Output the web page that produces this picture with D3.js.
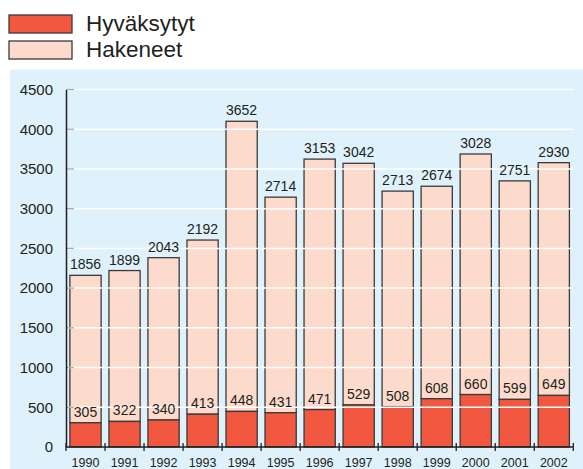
<!DOCTYPE html>
<html>
<head>
<meta charset="utf-8">
<script src="https://cdn.jsdelivr.net/npm/d3@7"></script>
<style>
  body { margin: 0; background: #fff; }
  text { font-family: "Liberation Sans", Arial, sans-serif; fill: #231f20; }
</style>
</head>
<body>
<script>
var width = 583,
    height = 469;

// data
var years = ["1990","1991","1992","1993","1994","1995","1996","1997","1998","1999","2000","2001","2002"];
var hyvaksytyt = [305,322,340,413,448,431,471,529,508,608,660,599,649];
var hakeneet = [1856,1899,2043,2192,3652,2714,3153,3042,2713,2674,3028,2751,2930];
var yTicks = [0,500,1000,1500,2000,2500,3000,3500,4000,4500];
var seriesNames = ["Hyväksytyt","Hakeneet"];

var red = "#f2573f",
    peach = "#fddbcc",
    bg = "#dff1fb";

var svg = d3.select("body").append("svg")
    .attr("width", width)
    .attr("height", height);

// panel background
svg.append("rect")
    .attr("x", 10).attr("y", 69.5)
    .attr("width", width - 10).attr("height", height - 69.5)
    .attr("fill", bg);

var x = d3.scaleBand()
    .domain(years)
    .range([66, 573.3])
    .paddingInner(0.2)
    .paddingOuter(0.1);

var y = d3.scaleLinear()
    .domain([0, 4500])
    .range([447, 89.5]);

// bars
var bars = svg.append("g").selectAll("g")
    .data(years)
    .enter().append("g");

bars.append("rect")
    .attr("x", function(d) { return x(d); })
    .attr("width", x.bandwidth())
    .attr("y", function(d, i) { return y(hyvaksytyt[i] + hakeneet[i]); })
    .attr("height", function(d, i) { return y(hyvaksytyt[i]) - y(hyvaksytyt[i] + hakeneet[i]); })
    .attr("fill", peach)
    .attr("stroke", "#3a3a3a")
    .attr("stroke-width", 1.3);

bars.append("rect")
    .attr("x", function(d) { return x(d); })
    .attr("width", x.bandwidth())
    .attr("y", function(d, i) { return y(hyvaksytyt[i]); })
    .attr("height", function(d, i) { return y(0) - y(hyvaksytyt[i]); })
    .attr("fill", red)
    .attr("stroke", "#3a3a3a")
    .attr("stroke-width", 1.3);

// gridlines drawn over the bars
var grid = svg.append("g");
grid.selectAll("line.grid")
    .data(yTicks.slice(1))
    .enter().append("line")
    .attr("class", "grid")
    .attr("x1", 66).attr("x2", 573)
    .attr("y1", function(d) { return y(d); })
    .attr("y2", function(d) { return y(d); })
    .attr("stroke", "#fff")
    .attr("stroke-width", 1.5);

grid.selectAll("line.tick")
    .data(yTicks.slice(1))
    .enter().append("line")
    .attr("class", "tick")
    .attr("x1", 66).attr("x2", 74)
    .attr("y1", function(d) { return y(d); })
    .attr("y2", function(d) { return y(d); })
    .attr("stroke", "#aaa")
    .attr("stroke-width", 1.3);

// y axis
var yAxis = svg.append("g")
    .attr("transform", "translate(66,0)")
    .call(d3.axisLeft(y).tickValues(yTicks).tickFormat(d3.format("d")).tickSize(0).tickPadding(13));
yAxis.select(".domain").attr("stroke", "#231f20").attr("stroke-width", 1.5);
yAxis.selectAll("text")
    .attr("font-size", 15)
    .style("font-family", "'Liberation Sans', Arial, sans-serif")
    .attr("fill", "#231f20");

// x axis
var xAxis = svg.append("g")
    .attr("transform", "translate(0,447)");
xAxis.append("line")
    .attr("x1", 66).attr("x2", 573.3)
    .attr("stroke", "#231f20").attr("stroke-width", 1.5);
xAxis.selectAll("line.xt")
    .data(d3.range(years.length + 1))
    .enter().append("line")
    .attr("class", "xt")
    .attr("x1", function(i) { return x.range()[0] + i * x.step(); })
    .attr("x2", function(i) { return x.range()[0] + i * x.step(); })
    .attr("y1", -4).attr("y2", 4)
    .attr("stroke", "#231f20").attr("stroke-width", 1.3);
xAxis.selectAll("text")
    .data(years)
    .enter().append("text")
    .attr("x", function(d) { return x(d) + x.bandwidth() / 2; })
    .attr("y", 20)
    .attr("text-anchor", "middle")
    .attr("font-size", 12.5)
    .text(function(d) { return d; });

// value labels (above the gridlines)
var labels = svg.append("g").selectAll("g")
    .data(years)
    .enter().append("g");

labels.append("text")
    .attr("x", function(d) { return x(d) + x.bandwidth() / 2; })
    .attr("y", function(d, i) { return y(hyvaksytyt[i] + hakeneet[i]) - 6; })
    .attr("text-anchor", "middle")
    .attr("font-size", 14)
    .text(function(d, i) { return hakeneet[i]; });

labels.append("text")
    .attr("x", function(d) { return x(d) + x.bandwidth() / 2; })
    .attr("y", function(d, i) { return y(hyvaksytyt[i]) - 6; })
    .attr("text-anchor", "middle")
    .attr("font-size", 14)
    .text(function(d, i) { return hyvaksytyt[i]; });

// legend
var legend = svg.append("g").selectAll("g")
    .data(seriesNames)
    .enter().append("g")
    .attr("transform", function(d, i) { return "translate(9," + (15 + i * 26) + ")"; });

legend.append("rect")
    .attr("width", 63).attr("height", 18)
    .attr("fill", function(d, i) { return i == 0 ? red : peach; })
    .attr("stroke", "#3a3a3a")
    .attr("stroke-width", 1.3);

legend.append("text")
    .attr("x", 77).attr("y", 16)
    .attr("font-size", 22.5)
    .text(function(d) { return d; });
</script>
</body>
</html>
